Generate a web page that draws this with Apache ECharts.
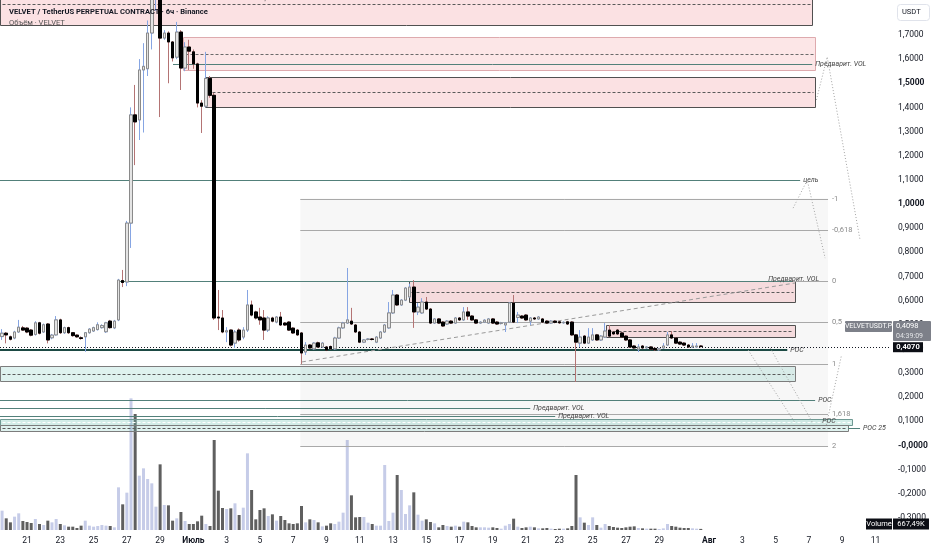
<!DOCTYPE html>
<html><head><meta charset="utf-8"><title>VELVETUSDT.P</title>
<script src="https://cdn.jsdelivr.net/npm/echarts@6.0.0/dist/echarts.min.js"></script>
<style>html,body{margin:0;padding:0;background:#fff;}#chart{width:932px;height:550px;}</style>
</head><body><div id="chart"></div>
<script>
const FONT = 'Roboto, "Noto Sans", sans-serif';

// 6h candles, first one is k=-6 (19 Jun 12:00), k=0 is 21 Jun 00:00
const firstK = -6;
const lastSlotK = 207;
// [open, close, low, high]
const candles = [
  [0.451,0.465,0.437,0.482],[0.465,0.458,0.423,0.470],[0.450,0.440,0.435,0.455],[0.445,0.470,0.440,0.475],[0.470,0.490,0.466,0.520], // -6..-2
  [0.487,0.478,0.475,0.495],[0.486,0.470,0.465,0.490],[0.478,0.457,0.452,0.482],[0.460,0.508,0.455,0.515],[0.508,0.465,0.460,0.512], // -1..3
  [0.470,0.500,0.466,0.505],[0.503,0.437,0.423,0.507],[0.446,0.457,0.440,0.462],[0.458,0.520,0.455,0.536],[0.520,0.467,0.462,0.525], // 4..8
  [0.467,0.488,0.462,0.492],[0.488,0.467,0.462,0.492],[0.467,0.455,0.450,0.470],[0.457,0.450,0.446,0.460],[0.446,0.443,0.438,0.452], // 9..13
  [0.450,0.467,0.388,0.470],[0.467,0.482,0.463,0.486],[0.474,0.488,0.470,0.492],[0.480,0.500,0.476,0.510],[0.488,0.497,0.484,0.502], // 14..18
  [0.471,0.508,0.466,0.512],[0.515,0.488,0.484,0.520],[0.487,0.515,0.482,0.520],[0.520,0.685,0.515,0.690],[0.683,0.675,0.656,0.727], // 19..23
  [0.677,0.921,0.660,0.930],[0.921,1.369,0.818,1.400],[1.369,1.340,1.161,1.493],[1.348,1.555,1.265,1.600],[1.555,1.570,1.296,1.666], // 24..28
  [1.560,1.708,1.530,1.760],[1.708,1.860,1.640,1.950],[1.860,1.900,1.800,2.000],[1.900,1.687,1.360,1.950],[1.687,1.708,1.680,1.720], // 29..33
  [1.708,1.671,1.500,1.715],[1.671,1.605,1.590,1.675],[1.608,1.712,1.600,1.754],[1.712,1.563,1.472,1.720],[1.563,1.650,1.550,1.670], // 34..38
  [1.650,1.633,1.555,1.680],[1.630,1.580,1.560,1.640],[1.580,1.418,1.400,1.585],[1.418,1.405,1.294,1.430],[1.405,1.520,1.400,1.630], // 39..43
  [1.520,1.450,1.440,1.530],[1.450,0.528,0.520,1.460],[0.532,0.528,0.478,0.644],[0.528,0.470,0.465,0.561],[0.470,0.475,0.428,0.490], // 44..48
  [0.478,0.416,0.410,0.480],[0.424,0.470,0.404,0.478],[0.478,0.437,0.430,0.485],[0.449,0.478,0.440,0.490],[0.478,0.582,0.470,0.644], // 49..53
  [0.582,0.540,0.535,0.600],[0.553,0.528,0.522,0.558],[0.532,0.520,0.500,0.570],[0.528,0.478,0.437,0.561],[0.478,0.528,0.470,0.535], // 54..58
  [0.528,0.515,0.510,0.533],[0.511,0.532,0.506,0.536],[0.532,0.499,0.495,0.553],[0.507,0.499,0.495,0.511],[0.511,0.478,0.474,0.515], // 59..63
  [0.486,0.466,0.462,0.490],[0.478,0.458,0.454,0.482],[0.466,0.383,0.337,0.470],[0.387,0.416,0.375,0.428],[0.416,0.404,0.400,0.420], // 64..68
  [0.400,0.424,0.396,0.428],[0.425,0.408,0.404,0.430],[0.408,0.424,0.404,0.428],[0.408,0.395,0.391,0.412],[0.410,0.400,0.396,0.414], // 69..73
  [0.400,0.445,0.396,0.450],[0.445,0.487,0.441,0.492],[0.487,0.507,0.483,0.512],[0.507,0.520,0.503,0.735],[0.515,0.503,0.499,0.570], // 74..78
  [0.499,0.470,0.466,0.503],[0.470,0.428,0.424,0.474],[0.428,0.437,0.424,0.441],[0.439,0.441,0.435,0.445],[0.441,0.439,0.435,0.445], // 79..83
  [0.428,0.449,0.424,0.453],[0.445,0.470,0.441,0.474],[0.470,0.499,0.466,0.503],[0.487,0.549,0.483,0.594],[0.549,0.623,0.545,0.644], // 84..88
  [0.623,0.582,0.578,0.627],[0.582,0.602,0.578,0.606],[0.602,0.652,0.598,0.656],[0.615,0.656,0.611,0.670],[0.656,0.553,0.487,0.685], // 89..93
  [0.553,0.573,0.540,0.590],[0.549,0.594,0.545,0.610],[0.594,0.565,0.561,0.615],[0.565,0.507,0.503,0.569],[0.507,0.524,0.503,0.528], // 94..98
  [0.524,0.507,0.503,0.528],[0.511,0.495,0.491,0.515],[0.503,0.515,0.499,0.519],[0.515,0.507,0.503,0.519],[0.507,0.528,0.503,0.532], // 99..103
  [0.528,0.520,0.516,0.532],[0.520,0.553,0.516,0.573],[0.553,0.536,0.520,0.573],[0.536,0.520,0.516,0.540],[0.520,0.507,0.503,0.524], // 104..108
  [0.507,0.511,0.503,0.515],[0.511,0.519,0.507,0.523],[0.507,0.524,0.503,0.528],[0.524,0.507,0.503,0.528],[0.511,0.503,0.499,0.515], // 109..113
  [0.505,0.508,0.501,0.512],[0.499,0.507,0.470,0.511],[0.511,0.590,0.507,0.594],[0.590,0.511,0.507,0.623],[0.530,0.540,0.507,0.553], // 114..118
  [0.536,0.528,0.524,0.540],[0.540,0.520,0.516,0.544],[0.515,0.528,0.499,0.532],[0.528,0.524,0.520,0.532],[0.524,0.532,0.520,0.536], // 119..123
  [0.524,0.511,0.507,0.528],[0.515,0.507,0.503,0.519],[0.507,0.515,0.503,0.519],[0.515,0.510,0.506,0.519],[0.512,0.508,0.504,0.516], // 124..128
  [0.508,0.510,0.504,0.514],[0.512,0.503,0.499,0.516],[0.511,0.458,0.454,0.515],[0.458,0.428,0.263,0.462],[0.424,0.449,0.408,0.478], // 129..133
  [0.453,0.424,0.420,0.457],[0.424,0.449,0.420,0.486],[0.437,0.458,0.433,0.486],[0.458,0.437,0.433,0.462],[0.437,0.453,0.433,0.457], // 134..138
  [0.449,0.474,0.445,0.507],[0.478,0.453,0.449,0.499],[0.470,0.462,0.458,0.474],[0.478,0.462,0.458,0.482],[0.466,0.449,0.445,0.470], // 139..143
  [0.453,0.437,0.433,0.457],[0.437,0.408,0.404,0.441],[0.412,0.404,0.400,0.416],[0.399,0.408,0.387,0.420],[0.412,0.404,0.400,0.416], // 144..148
  [0.404,0.408,0.400,0.412],[0.408,0.399,0.395,0.412],[0.402,0.396,0.392,0.406],[0.396,0.400,0.392,0.404],[0.404,0.412,0.400,0.424], // 149..153
  [0.416,0.458,0.412,0.470],[0.458,0.445,0.441,0.474],[0.445,0.424,0.420,0.449],[0.428,0.420,0.416,0.432],[0.424,0.416,0.412,0.428], // 154..158
  [0.416,0.408,0.404,0.420],[0.408,0.412,0.404,0.424],[0.408,0.412,0.404,0.424],[0.412,0.4098,0.406,0.416]                          // 159..162
];
// volume, millions
const volumes = [
  11.6,7.0,4.6,8.0,10.0,5.4,4.8,4.2,6.6,3.6,
  3.0,5.6,4.6,6.6,3.6,2.8,2.0,2.0,1.2,2.6,
  5.6,2.6,2.0,2.4,3.0,2.6,2.4,1.6,25.6,15.4,
  22.4,79.0,69.6,32.6,37.0,30.6,28.0,14.0,39.4,15.0,
  14.8,5.6,7.0,10.8,5.4,3.6,3.6,5.2,8.6,3.6,
  2.4,54.0,23.6,13.2,12.6,13.0,16.0,9.0,13.4,46.0,
  24.0,6.4,12.0,13.0,8.4,9.4,5.6,8.4,6.0,4.0,
  3.6,4.0,14.4,4.6,6.4,6.0,4.6,2.2,2.6,4.0,
  3.6,5.0,10.4,54.0,20.8,7.6,7.8,7.8,4.4,3.6,
  2.6,2.6,39.0,5.4,10.4,33.0,24.0,9.6,14.8,22.6,
  9.2,5.6,6.4,4.8,4.0,1.6,3.0,2.4,2.0,2.6,
  2.0,5.0,4.6,2.4,1.6,1.6,1.6,1.4,1.6,1.2,
  0.8,2.6,3.6,6.8,2.0,1.2,1.6,2.0,1.6,1.0,
  1.0,1.2,0.8,0.6,0.8,0.8,1.0,2.4,33.0,7.6,
  4.4,3.0,7.6,3.0,1.4,3.6,2.4,1.8,1.4,1.2,
  1.6,2.0,2.2,1.2,1.0,0.8,0.8,0.8,0.6,1.0,
  3.6,2.4,2.0,1.4,1.2,1.2,1.0,0.8,0.66749
];

// time-axis tick labels
const juneLabelDays = [21,23,25,27,29];
const julyLabelDays = [3,5,7,9,11,13,15,17,19,21,23,25,27,29];
const augLabelDays = [3,5,7,9,11];
const monthNames = {7:'Июль', 8:'Авг'};

// drawings in chart space: candle index k, price
// zones: [kStart, kEnd, priceTop, priceBottom, kind]
const zones = [
  [-6.5, 188.8, 1.915, 1.741, 'supply'],
  [37.5, 189.5, 1.691, 1.555, 'supplySoft'],
  [42.8, 189.5, 1.526, 1.402, 'supply'],
  [91.9, 184.7, 0.681, 0.594, 'supply'],
  [139.2, 184.7, 0.499, 0.449, 'supply'],
  [-6.5, 184.7, 0.329, 0.267, 'demand'],
  [-6.5, 198.4, 0.111, 0.0865, 'demandSoft'],
  [-6.5, 197.4, 0.0865, 0.062, 'demand']
];
// horizontal levels: [kStart, kEnd, price, label, kind]
const levels = [
  [35.1, 188.8, 1.580, 'Предварит. VOL', 'teal'],
  [-6.5, 185.9, 1.099, 'цель', 'teal'],
  [21.9, 184.0, 0.681, '', 'teal'],
  [-6.5, 182.8, 0.395, 'POC', 'poc'],
  [-6.5, 189.5, 0.188, 'POC', 'teal'],
  [-6.5, 121.0, 0.155, 'Предварит. VOL', 'teal'],
  [-6.5, 127.0, 0.122, 'Предварит. VOL', 'teal'],
  [197.4, 200.3, 0.0725, 'POC 25', 'teal'],
  [-6.5, 207.5, 0.4070, '', 'mark']
];
const markedPrice = 0.4070;
const fibK = [65.7, 192.6];
const fibPrices = [0.681, 0.3395];
const fibLevels = [-1, -0.618, 0, 0.5, 1, 1.618, 2];
const trendLine = [[66.1, 0.346], [184.7, 0.673]];
const dottedPaths = [
  [[189.8, 1.431], [192.4, 1.609], [200.3, 0.851]],
  [[184.2, 0.983], [187.6, 1.099], [191.9, 0.776]],
  [[173.4, 0.395], [184.7, 0.093]],
  [[178.7, 0.404], [188.8, 0.097]],
  [[192.2, 0.085], [195.8, 0.371]]
];
const notes = [
  [56.5, 1.852, 'цель'],
  [178.2, 0.690, 'Предварит. VOL'],
  [191.2, 0.101, 'POC']
];
const symbolTag = 'VELVETUSDT.P';
const countdown = '04:39:09';
const volumeTag = '667,49K';

// ---------- build ----------
const baseTime = Date.UTC(2025, 5, 21, 0, 0);
const categories = [];
for (let k = firstK; k <= lastSlotK; k++) {
  const d = new Date(baseTime + k * 6 * 3600 * 1000);
  categories.push((d.getUTCMonth() + 1) + '-' + d.getUTCDate() + '-' + d.getUTCHours());
}
const labelText = {};
juneLabelDays.forEach(d => labelText['6-' + d + '-0'] = String(d));
labelText['7-1-0'] = '{m|' + monthNames[7] + '}';
julyLabelDays.forEach(d => labelText['7-' + d + '-0'] = String(d));
labelText['8-1-0'] = '{m|' + monthNames[8] + '}';
augLabelDays.forEach(d => labelText['8-' + d + '-0'] = String(d));

const bodies = candles.map(c => [c[0], c[1], Math.min(c[0], c[1]), Math.max(c[0], c[1])]);
const UPV = '#c6cce8', DNV = '#5f5f5f';
const volData = volumes.map((v, i) => ({value: v, itemStyle: {color: candles[i][1] >= candles[i][0] ? UPV : DNV}}));
const lastClose = candles[candles.length - 1][1];
const boldPrices = [1.5, 1, 0];

const zoneStyle = {
  supply: {fill: 'rgba(240,128,136,0.24)', stroke: '#505050', mid: '#5a5a5a'},
  supplySoft: {fill: 'rgba(240,128,136,0.2)', stroke: '#deaaae', mid: '#6a6a6a'},
  demand: {fill: 'rgba(110,195,180,0.22)', stroke: '#7c7c7c', mid: '#5a5a5a'},
  demandSoft: {fill: 'rgba(110,195,180,0.3)', stroke: '#6f9993', mid: '#ffffff'}
};
const levelStyle = {
  teal: {stroke: '#52807a', lineWidth: 1},
  poc: {stroke: '#1d4a44', lineWidth: 2},
  mark: {stroke: '#131722', lineWidth: 1, lineDash: [1, 2]}
};
const noteFont = {fontSize: 7, fontStyle: 'italic', fontFamily: FONT, fill: '#454545'};

function renderDrawings(params, api) {
  const P = (k, p) => api.coord([k, p]);
  const snap = v => Math.round(v) + 0.5;
  const out = [];
  const fp = l => fibPrices[0] + l * (fibPrices[1] - fibPrices[0]);
  const fa = P(fibK[0], fp(fibLevels[0])), fb = P(fibK[1], fp(fibLevels[fibLevels.length - 1]));
  out.push({type: 'rect', shape: {x: fa[0], y: fa[1], width: fb[0] - fa[0], height: fb[1] - fa[1]}, style: {fill: 'rgba(0,0,0,0.03)'}});
  zones.forEach(z => {
    const st = zoneStyle[z[4]];
    const a = P(z[0], z[2]), b = P(z[1], z[3]);
    const x0 = snap(a[0]), x1 = snap(b[0]), y0 = snap(a[1]), y1 = snap(b[1]);
    out.push({type: 'rect', shape: {x: x0, y: y0, width: x1 - x0, height: y1 - y0}, style: {fill: st.fill, stroke: st.stroke, lineWidth: 1}});
    const ym = snap(P(z[0], (z[2] + z[3]) / 2)[1]);
    out.push({type: 'line', shape: {x1: x0 + 2, y1: ym, x2: x1 - 2, y2: ym}, style: {stroke: st.mid, lineWidth: 1, lineDash: [3, 2]}});
  });
  fibLevels.forEach(l => {
    const a = P(fibK[0], fp(l)), b = P(fibK[1], fp(l));
    const y = snap(a[1]);
    out.push({type: 'line', shape: {x1: a[0], y1: y, x2: b[0], y2: y}, style: {stroke: '#a9a9a9', lineWidth: 1}});
    out.push({type: 'text', x: b[0] + 4, y: y, style: {text: String(l).replace('.', ','), fill: '#8a8a8a', fontSize: 7.5, fontFamily: FONT, align: 'left', verticalAlign: 'middle'}});
  });
  levels.forEach(L => {
    const a = P(L[0], L[2]), b = P(L[1], L[2]);
    const st = levelStyle[L[4]];
    const y = st.lineWidth === 2 ? Math.round(a[1]) : snap(a[1]);
    out.push({type: 'line', shape: {x1: a[0], y1: y, x2: b[0], y2: y}, style: Object.assign({}, st)});
    if (L[3]) out.push({type: 'text', x: b[0] + 3, y: y, style: Object.assign({text: L[3], align: 'left', verticalAlign: 'middle'}, noteFont)});
  });
  out.push({type: 'polyline', shape: {points: trendLine.map(p => P(p[0], p[1]))}, style: {stroke: '#9a9a9a', lineWidth: 1, lineDash: [4, 3], fill: null}});
  dottedPaths.forEach(path => {
    out.push({type: 'polyline', shape: {points: path.map(p => P(p[0], p[1]))}, style: {stroke: '#a4a4a4', lineWidth: 1, lineDash: [1, 2], fill: null}});
  });
  notes.forEach(n => {
    const a = P(n[0], n[1]);
    out.push({type: 'text', x: a[0], y: a[1], style: Object.assign({text: n[2], align: 'left', verticalAlign: 'middle'}, noteFont)});
  });
  return {type: 'group', children: out};
}

function renderTags(params, api) {
  const cs = params.coordSys;
  const xr = cs.x + cs.width;
  const out = [];
  const ym = api.coord([0, markedPrice])[1];
  const yl = api.coord([0, lastClose])[1] - 15.5;
  const grey = '#7d8089';
  out.push({type: 'rect', shape: {x: xr + 3, y: yl - 10, width: 38, height: 20, r: 1}, style: {fill: grey}});
  out.push({type: 'text', x: xr + 6, y: yl, style: {text: '{a|' + lastClose.toFixed(4).replace('.', ',') + '}\n{b|' + countdown + '}', rich: {a: {fill: '#fff', fontSize: 7.5, fontFamily: FONT, lineHeight: 9.5}, b: {fill: '#e2e3e6', fontSize: 7, fontFamily: FONT, lineHeight: 9.5}}, align: 'left', verticalAlign: 'middle'}});
  out.push({type: 'rect', shape: {x: xr - 45, y: yl - 10, width: 47, height: 11, r: 1}, style: {fill: grey}});
  out.push({type: 'text', x: xr - 21.5, y: yl - 4.5, style: {text: symbolTag, fill: '#fff', fontSize: 7, fontFamily: FONT, align: 'center', verticalAlign: 'middle'}});
  out.push({type: 'rect', shape: {x: xr + 3, y: ym - 5, width: 30, height: 10}, style: {fill: '#0c0e15'}});
  out.push({type: 'text', x: xr + 18, y: ym, style: {text: markedPrice.toFixed(4).replace('.', ','), fill: '#fff', fontSize: 7.5, fontWeight: 'bold', fontFamily: FONT, align: 'center', verticalAlign: 'middle'}});
  return {type: 'group', children: out};
}

function renderVolumeTag(params, api) {
  const cs = params.coordSys;
  const xr = cs.x + cs.width;
  const y = Math.min(api.coord([0, volumes[volumes.length - 1]])[1], cs.y + cs.height - 6);
  return {type: 'group', children: [
    {type: 'rect', shape: {x: xr - 24, y: y - 5.5, width: 26, height: 11}, style: {fill: '#0c0e15'}},
    {type: 'text', x: xr - 11, y: y, style: {text: 'Volume', fill: '#fff', fontSize: 7.5, fontFamily: FONT, align: 'center', verticalAlign: 'middle'}},
    {type: 'rect', shape: {x: xr + 3, y: y - 5.5, width: 36, height: 11}, style: {fill: '#0c0e15'}},
    {type: 'text', x: xr + 21, y: y, style: {text: volumeTag, fill: '#fff', fontSize: 7.5, fontFamily: FONT, align: 'center', verticalAlign: 'middle'}}
  ]};
}

const chart = echarts.init(document.getElementById('chart'), null, {renderer: 'canvas'});
const option = {
  animation: false,
  backgroundColor: '#ffffff',
  textStyle: {fontFamily: FONT},
  title: {
    text: 'VELVET / TetherUS PERPETUAL CONTRACT · 6ч · Binance',
    subtext: 'Объём · VELVET',
    left: 4, top: 3, itemGap: 3,
    textStyle: {fontSize: 7.6, fontWeight: 'bold', color: '#131722', fontFamily: FONT},
    subtextStyle: {fontSize: 7.6, color: '#555', fontFamily: FONT}
  },
  graphic: [
    {type: 'rect', left: 897, top: 4, shape: {width: 32, height: 16, r: 3}, style: {fill: '#fff', stroke: '#e0e3eb'}, z: 100},
    {type: 'text', left: 902, top: 8, style: {text: 'USDT', fill: '#131722', fontSize: 7.5, fontFamily: FONT}, z: 101}
  ],
  grid: [
    {left: 0, right: 42, top: -13.35, height: 555.45, outerBoundsMode: 'none', containLabel: false},
    {left: 0, right: 42, top: 380, height: 150, outerBoundsMode: 'none', containLabel: false}
  ],
  xAxis: [
    {type: 'category', gridIndex: 0, data: categories, show: false, boundaryGap: true},
    {type: 'value', gridIndex: 0, min: firstK - 0.5, max: lastSlotK + 0.5, show: false},
    {type: 'category', gridIndex: 1, data: categories, boundaryGap: true,
      axisLine: {show: false}, axisTick: {show: false}, splitLine: {show: false},
      axisLabel: {
        interval: (i, v) => labelText[v] !== undefined,
        formatter: v => labelText[v] || '',
        margin: 6, color: '#131722', fontSize: 8.5, fontFamily: FONT,
        rich: {m: {fontWeight: 'bold', fontSize: 8.5, color: '#131722', fontFamily: FONT}}
      }}
  ],
  yAxis: [
    {type: 'value', gridIndex: 0, position: 'right', min: -0.4, max: 1.9, interval: 0.1,
      splitLine: {show: false}, axisLine: {show: false}, axisTick: {show: false},
      axisLabel: {
        margin: 8, color: '#131722', fontSize: 8.5, fontFamily: FONT,
        formatter: v => {
          if (v > 1.75 || v < -0.35) return '';
          const r = Math.round(v * 10) / 10;
          const s = Math.abs(r) < 1e-9 ? '-0,0000' : r.toFixed(4).replace('.', ',');
          return boldPrices.includes(r) ? '{b|' + s + '}' : s;
        },
        rich: {b: {fontWeight: 'bold', fontSize: 8.5, color: '#131722', fontFamily: FONT}}
      }},
    {type: 'value', gridIndex: 1, min: 0, max: 90, show: false}
  ],
  series: [
    {type: 'bar', name: 'Volume', xAxisIndex: 2, yAxisIndex: 1, data: volData, barWidth: 3, z: 1, silent: true},
    {type: 'custom', name: 'drawings', xAxisIndex: 1, yAxisIndex: 0, data: [[0, 0]], renderItem: renderDrawings, z: 2, silent: true, clip: false},
    {type: 'candlestick', name: 'wicks', xAxisIndex: 0, yAxisIndex: 0, data: candles, barWidth: 3, z: 3, silent: true, clip: false,
      itemStyle: {color: '#e4e4e4', color0: '#000', borderColor: '#86a5e3', borderColor0: '#b47474', borderWidth: 1}},
    {type: 'candlestick', name: 'bodies', xAxisIndex: 0, yAxisIndex: 0, data: bodies, barWidth: 3, z: 4, silent: true, clip: false,
      itemStyle: {color: '#e4e4e4', color0: '#000', borderColor: '#8a8a8a', borderColor0: '#000', borderWidth: 1}},
    {type: 'custom', name: 'tags', xAxisIndex: 1, yAxisIndex: 0, data: [[0, 0]], renderItem: renderTags, z: 10, silent: true, clip: false},
    {type: 'custom', name: 'volTag', xAxisIndex: 2, yAxisIndex: 1, data: [[0, 0]], renderItem: renderVolumeTag, z: 10, silent: true, clip: false}
  ]
};
chart.setOption(option);
</script></body></html>
